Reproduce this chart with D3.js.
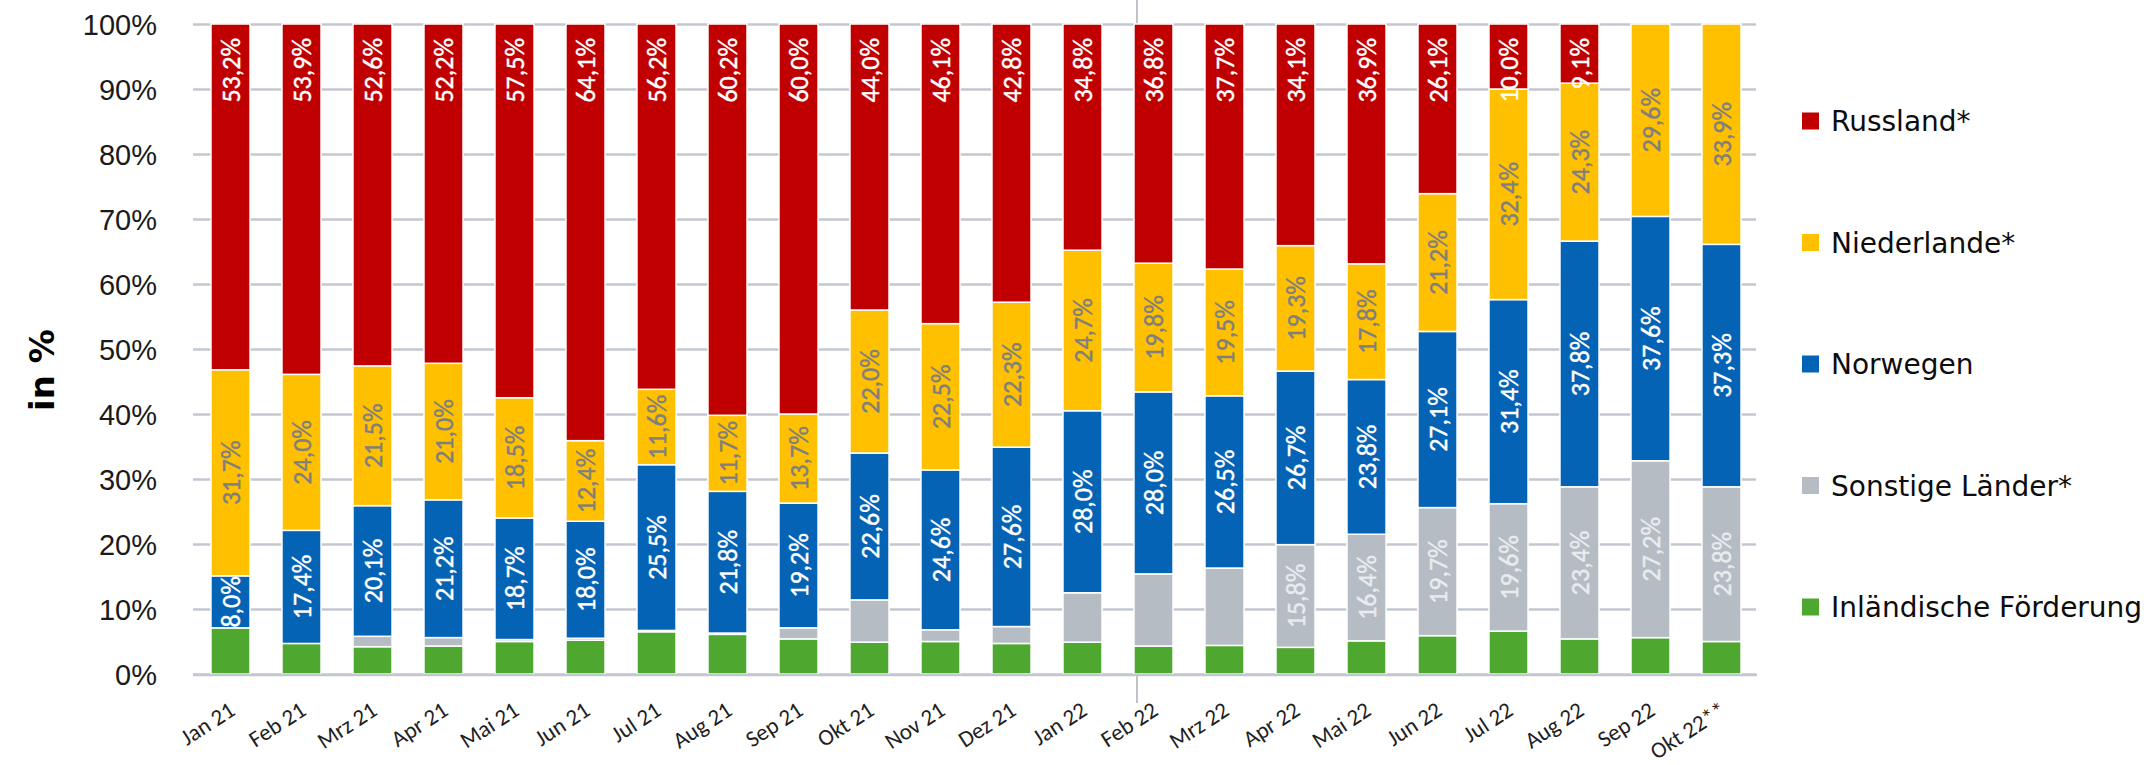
<!DOCTYPE html>
<html>
<head>
<meta charset="utf-8">
<script src="https://cdn.jsdelivr.net/npm/d3@7"></script>
<style>
  body { margin: 0; background: #ffffff; }
  svg { display: block; }
</style>
</head>
<body>
<div id="chart"></div>
<script>
// Gasimporte nach Herkunft, Anteile in %
const months = ['Jan 21', 'Feb 21', 'Mrz 21', 'Apr 21', 'Mai 21', 'Jun 21', 'Jul 21', 'Aug 21',
    'Sep 21', 'Okt 21', 'Nov 21', 'Dez 21', 'Jan 22', 'Feb 22', 'Mrz 22', 'Apr 22', 'Mai 22',
    'Jun 22', 'Jul 22', 'Aug 22', 'Sep 22', 'Okt 22**'];

const inland      = [7.1, 4.7, 4.2, 4.3, 5.0, 5.2, 6.5, 6.1, 5.4, 4.9, 5.0, 4.7, 4.9, 4.3, 4.4, 4.1, 5.1, 5.9, 6.6, 5.4, 5.6, 5.0];
const sonstige    = [0.0, 0.0, 1.6, 1.3, 0.3, 0.3, 0.2, 0.2, 1.7, 6.5, 1.8, 2.6, 7.6, 11.1, 11.9, 15.8, 16.4, 19.7, 19.6, 23.4, 27.2, 23.8];
const norwegen    = [8.0, 17.4, 20.1, 21.2, 18.7, 18.0, 25.5, 21.8, 19.2, 22.6, 24.6, 27.6, 28.0, 28.0, 26.5, 26.7, 23.8, 27.1, 31.4, 37.8, 37.6, 37.3];
const niederlande = [31.7, 24.0, 21.5, 21.0, 18.5, 12.4, 11.6, 11.7, 13.7, 22.0, 22.5, 22.3, 24.7, 19.8, 19.5, 19.3, 17.8, 21.2, 32.4, 24.3, 29.6, 33.9];
const russland    = [53.2, 53.9, 52.6, 52.2, 57.5, 64.1, 56.2, 60.2, 60.0, 44.0, 46.1, 42.8, 34.8, 36.8, 37.7, 34.1, 36.9, 26.1, 10.0, 9.1, 0.0, 0.0];

const yTicks = [0, 10, 20, 30, 40, 50, 60, 70, 80, 90, 100];

const seriesNames = ['Inländische Förderung', 'Sonstige Länder*', 'Norwegen', 'Niederlande*', 'Russland*'];
const seriesKeys = ['inland', 'sonstige', 'norwegen', 'niederlande', 'russland'];

(function() {
    const width = 2156, height = 765;
    const plot = {left: 195, right: 1757, top: 24, bottom: 674};

    const colors = {
        inland: '#4ea72e',
        sonstige: '#b5bcc4',
        norwegen: '#0563b5',
        niederlande: '#ffc000',
        russland: '#c00000'
    };
    const labelColors = {
        sonstige: '#e9ecef',
        norwegen: '#ffffff',
        niederlande: '#7f7f7f',
        russland: '#ffffff'
    };

    const table = months.map((m, i) => ({
        month: m,
        inland: inland[i],
        sonstige: sonstige[i],
        norwegen: norwegen[i],
        niederlande: niederlande[i],
        russland: russland[i]
    }));

    const stack = d3.stack().keys(seriesKeys);
    const layers = stack(table);

    const x = d3.scaleBand()
        .domain(months)
        .range([plot.left, plot.right])
        .paddingInner(0.45)
        .paddingOuter(0.225);

    const y = d3.scaleLinear()
        .domain([0, 100])
        .range([plot.bottom, plot.top]);

    const svg = d3.select('#chart').append('svg')
        .attr('width', width)
        .attr('height', height)
        .attr('font-family', '"DejaVu Sans", Verdana, sans-serif');

    // grid + y labels
    const yAxis = svg.append('g')
        .attr('transform', 'translate(' + (plot.left - 2) + ',0)')
        .call(d3.axisLeft(y)
            .tickValues(yTicks)
            .tickFormat(d => d + '%')
            .tickSize(-(plot.right - plot.left + 1))
            .tickPadding(36));
    yAxis.select('.domain').remove();
    yAxis.selectAll('line')
        .attr('stroke', '#c3c8d0')
        .attr('stroke-width', 2.5);
    yAxis.selectAll('text')
        .attr('font-size', 29)
        .attr('fill', '#1a1a1a')
        .attr('dy', '0.36em');

    // thin marker line at Feb 22
    const markX = x('Feb 22') + 3;
    svg.append('line')
        .attr('x1', markX).attr('x2', markX)
        .attr('y1', 0).attr('y2', plot.bottom + 29)
        .attr('stroke', '#a9b0b8')
        .attr('stroke-width', 1.5);

    // bars
    const barGroups = svg.append('g').selectAll('g')
        .data(layers)
        .enter().append('g')
        .attr('fill', d => colors[d.key]);

    barGroups.selectAll('rect')
        .data(d => d.filter(s => s[1] - s[0] > 0))
        .enter().append('rect')
        .attr('x', d => x(d.data.month))
        .attr('y', d => y(d[1]))
        .attr('width', x.bandwidth())
        .attr('height', d => y(d[0]) - y(d[1]))
        .attr('stroke', '#ffffff')
        .attr('stroke-width', 1.5);

    // baseline
    svg.append('line')
        .attr('x1', plot.left - 2).attr('x2', plot.right)
        .attr('y1', plot.bottom + 1).attr('y2', plot.bottom + 1)
        .attr('stroke', '#c3c8d0')
        .attr('stroke-width', 2.5);

    // value labels
    const fmt = v => v.toFixed(1).replace('.', ',') + '%';
    const labels = svg.append('g')
        .attr('font-family', '"Liberation Sans Narrow", "Arial Narrow", Carlito, Lato, sans-serif')
        .attr('font-size', 26);

    layers.forEach(function(layer) {
        const key = layer.key;
        if (key === 'inland') return;
        layer.forEach(function(s) {
            const v = s.data[key];
            if (v <= 0) return;
            if (key === 'sonstige' && v < 15) return;
            const cx = x(s.data.month) + x.bandwidth() / 2;
            let py, anchor;
            if (key === 'russland') {
                py = y(s[1]) + 14;
                anchor = 'end';
            } else {
                py = (y(s[0]) + y(s[1])) / 2;
                anchor = 'middle';
            }
            labels.append('text')
                .attr('transform', 'translate(' + cx + ',' + py + ') rotate(-90)')
                .attr('text-anchor', anchor)
                .attr('dy', '0.36em')
                .attr('fill', labelColors[key])
                .attr('stroke', labelColors[key])
                .attr('stroke-width', 0.4)
                .text(fmt(v));
        });
    });

    // x labels
    svg.append('g').selectAll('text')
        .data(months)
        .enter().append('text')
        .attr('font-family', 'Carlito, Calibri, Lato, sans-serif')
        .attr('font-size', 23)
        .attr('fill', '#1f1f1f')
        .attr('text-anchor', 'end')
        .attr('transform', d => 'translate(' + (x(d) + x.bandwidth() / 2 + 6) + ',' + (plot.bottom + 40) + ') rotate(-33)')
        .text(d => d);

    // y title
    svg.append('text')
        .attr('transform', 'translate(54,370) rotate(-90)')
        .attr('text-anchor', 'middle')
        .attr('font-size', 34)
        .attr('font-weight', 'bold')
        .attr('fill', '#000000')
        .text('in %');

    // legend
    const legendKeys = seriesKeys.slice().reverse();
    const legendNames = seriesNames.slice().reverse();
    const legend = svg.append('g')
        .attr('transform', 'translate(1802,0)');
    const item = legend.selectAll('g')
        .data(legendKeys)
        .enter().append('g')
        .attr('transform', (d, i) => 'translate(0,' + (121 + i * 121.5) + ')');
    item.append('rect')
        .attr('y', -8.5)
        .attr('width', 17)
        .attr('height', 17)
        .attr('fill', d => colors[d]);
    item.append('text')
        .attr('x', 29)
        .attr('dy', '0.36em')
        .attr('font-size', 28)
        .attr('fill', '#0d0d0d')
        .text((d, i) => legendNames[i]);
}());
</script>
</body>
</html>
